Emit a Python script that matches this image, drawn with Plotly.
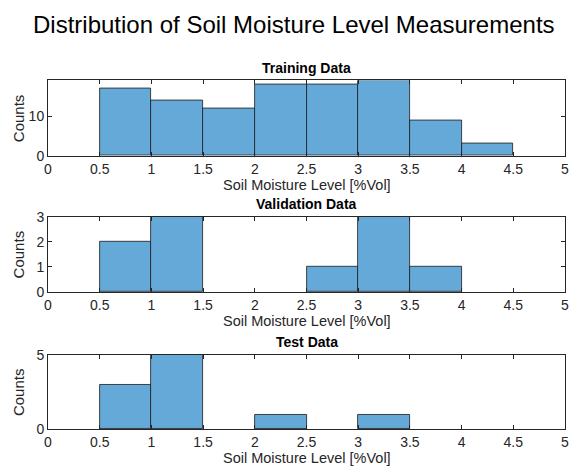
import plotly.graph_objects as go

bin_edges = [0, 0.5, 1, 1.5, 2, 2.5, 3, 3.5, 4, 4.5, 5]
train_counts = [0, 17, 14, 12, 18, 18, 19, 9, 3, 0]
val_counts = [0, 2, 3, 0, 0, 1, 3, 1, 0, 0]
test_counts = [0, 3, 5, 0, 1, 0, 1, 0, 0, 0]
panel_titles = ["Training Data", "Validation Data", "Test Data"]
y_ranges = [[0, 19], [0, 3], [0, 5]]
y_ticks = [[0, 10], [0, 1, 2, 3], [0, 5]]
x_ticks = [0, 0.5, 1, 1.5, 2, 2.5, 3, 3.5, 4, 4.5, 5]
x_label = "Soil Moisture Level [%Vol]"
y_label = "Counts"
main_title = "Distribution of Soil Moisture Level Measurements"

W, H = 569, 474
# pixel positions of each axes box (top, bottom)
boxes = [(75, 153), (216, 294), (359, 436)]

fill = "rgb(100,169,216)"
axcol = "#262626"
font = "Liberation Sans, Arial, sans-serif"

fig = go.Figure()
series = [train_counts, val_counts, test_counts]
centers = [(bin_edges[i] + bin_edges[i + 1]) / 2 for i in range(len(bin_edges) - 1)]
widths = [bin_edges[i + 1] - bin_edges[i] for i in range(len(bin_edges) - 1)]

annotations = []
for k, counts in enumerate(series):
    xs = [c for c, v in zip(centers, counts) if v > 0]
    ws = [w for w, v in zip(widths, counts) if v > 0]
    ys = [v for v in counts if v > 0]
    ax = "" if k == 0 else str(k + 1)
    fig.add_trace(go.Bar(
        x=xs, y=ys, width=ws, xaxis="x" + ax, yaxis="y" + ax,
        marker=dict(color=fill, line=dict(color="#1a1a1a", width=0.8)),
        showlegend=False,
    ))
    top, bot = boxes[k]
    dom = [1 - bot / H, 1 - top / H]
    common = dict(showline=True, linecolor=axcol, linewidth=1, mirror="ticks",
                  ticks="inside", ticklen=4, tickcolor=axcol, showgrid=False,
                  zeroline=False, ticklabeloverflow="allow",
                  tickfont=dict(family=font, size=14, color=axcol))
    fig.update_layout(**{
        "xaxis" + ax: dict(domain=[0, 1], range=[0, 5], tickvals=x_ticks,
                           ticktext=[f"{t:g}" for t in x_ticks],
                           anchor="y" + ax, **common),
        "yaxis" + ax: dict(domain=dom, range=y_ranges[k], tickvals=y_ticks[k],
                           anchor="x" + ax, **common),
    })
    # panel title
    annotations.append(dict(text="<b>" + panel_titles[k] + "</b>", xref="paper", yref="paper",
                            x=0.5, y=1 - (top - 3) / H, xanchor="center", yanchor="bottom",
                            showarrow=False, font=dict(family=font, size=14, color="black")))
    # x label
    annotations.append(dict(text=x_label, xref="paper", yref="paper",
                            x=0.5, y=1 - (bot + 30) / H, xanchor="center", yanchor="middle",
                            showarrow=False, font=dict(family=font, size=14.5, color=axcol)))
    # y label
    annotations.append(dict(text=y_label, xref="paper", yref="paper", textangle=-90,
                            x=-30 / 517, y=1 - ((top + bot) / 2) / H, xanchor="center", yanchor="middle",
                            showarrow=False, font=dict(family=font, size=15, color=axcol)))

annotations.append(dict(text=main_title, xref="paper", yref="paper",
                        x=(294 - 48) / 517, y=1 - 17 / H, xanchor="center", yanchor="middle",
                        showarrow=False, font=dict(family=font, size=24, color="black")))

fig.update_layout(width=W, height=H, margin=dict(l=48, r=4, t=0, b=0),
                  paper_bgcolor="white", plot_bgcolor="white",
                  annotations=annotations, bargap=0)
fig.write_html("out.html")
